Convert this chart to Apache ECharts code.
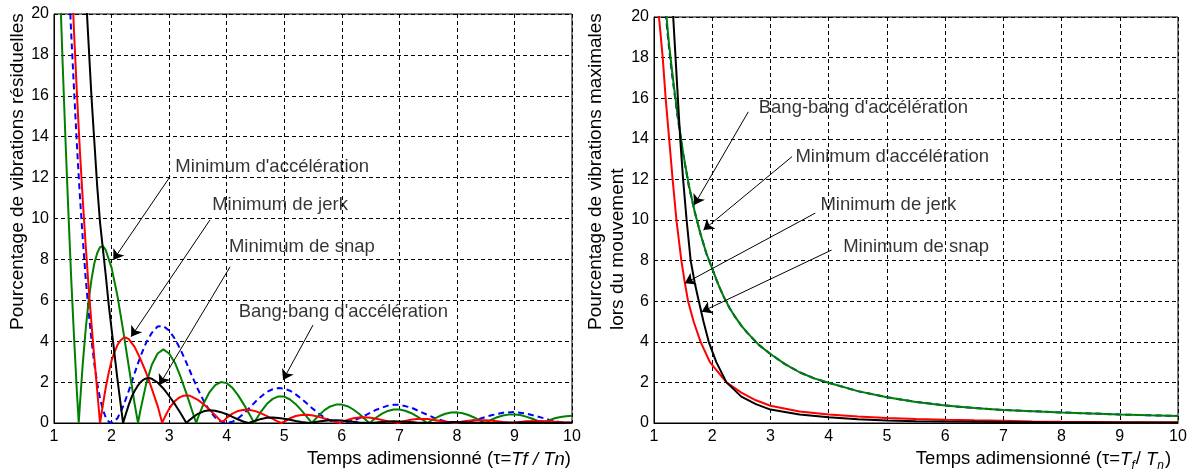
<!DOCTYPE html>
<html><head><meta charset="utf-8">
<script src="https://cdn.jsdelivr.net/npm/echarts@6/dist/echarts.min.js"></script>
<style>html,body{margin:0;padding:0;background:#fff}#c{width:1189px;height:470px}</style>
</head><body><div id="c"></div>
<script>
// ---------- DATA ----------
const xTicks = [1, 2, 3, 4, 5, 6, 7, 8, 9, 10];
const yTicks = [0, 2, 4, 6, 8, 10, 12, 14, 16, 18, 20];
const seriesNames = ["Bang-bang d'accélération", "Minimum d'accélération", "Minimum de jerk", "Minimum de snap"];
const yTitleLeft = 'Pourcentage de vibrations résiduelles';
const yTitleRight = ['Pourcentage de vibrations maximales', 'lors du mouvement'];

// Left panel: residual vibration (%) vs tau
const resBangBang = [[1.2,25.4],[1.25,22.1],[1.3,19.0],[1.35,16.2],[1.4,13.5],[1.45,11.1],[1.5,9.0],[1.55,7.1],[1.6,5.5],[1.65,4.1],[1.7,2.9],[1.75,1.95],[1.8,1.2],[1.85,0.64],[1.9,0.27],[1.95,0.07],[2.0,0],[2.1,0.22],[2.2,0.8],[2.3,1.58],[2.4,2.43],[2.5,3.24],[2.6,3.92],[2.7,4.41],[2.8,4.72],[2.9,4.74],[3.0,4.52],[3.1,4.12],[3.2,3.58],[3.3,2.95],[3.4,2.29],[3.5,1.65],[3.6,1.08],[3.7,0.61],[3.8,0.27],[3.9,0.07],[4.0,0],[4.1,0.06],[4.2,0.23],[4.3,0.47],[4.4,0.75],[4.5,1.04],[4.6,1.3],[4.7,1.52],[4.8,1.65],[4.9,1.71],[5.0,1.68],[5.1,1.58],[5.2,1.4],[5.3,1.18],[5.4,0.94],[5.5,0.69],[5.6,0.46],[5.7,0.27],[5.8,0.12],[5.9,0.03],[6.0,0],[6.2,0.11],[6.4,0.36],[6.6,0.65],[6.8,0.85],[6.9,0.89],[7.0,0.89],[7.2,0.76],[7.4,0.51],[7.6,0.26],[7.8,0.07],[8.0,0],[8.2,0.06],[8.4,0.21],[8.6,0.38],[8.8,0.5],[9.0,0.54],[9.2,0.46],[9.4,0.32],[9.6,0.16],[9.8,0.04],[10.0,0]];
const resMinAcc = [[1.0,30.5],[1.05,26.0],[1.1,21.7],[1.15,17.6],[1.2,13.8],[1.25,10.3],[1.3,7.0],[1.35,4.1],[1.4,1.4],[1.43,0],[1.45,0.9],[1.5,2.9],[1.55,4.55],[1.6,5.95],[1.65,7.0],[1.7,7.8],[1.75,8.3],[1.8,8.6],[1.85,8.65],[1.9,8.45],[2.0,7.6],[2.1,6.25],[2.2,4.55],[2.3,2.75],[2.4,0.95],[2.46,0],[2.5,0.6],[2.6,1.9],[2.7,2.85],[2.8,3.4],[2.9,3.6],[3.0,3.4],[3.1,2.95],[3.2,2.25],[3.3,1.45],[3.4,0.6],[3.47,0],[3.5,0.25],[3.6,0.95],[3.7,1.5],[3.8,1.85],[3.9,2.0],[4.0,1.95],[4.1,1.72],[4.2,1.35],[4.3,0.9],[4.4,0.4],[4.48,0],[4.5,0.12],[4.6,0.57],[4.7,0.94],[4.8,1.18],[4.9,1.3],[5.0,1.29],[5.1,1.15],[5.2,0.92],[5.3,0.62],[5.4,0.28],[5.48,0],[5.5,0.06],[5.6,0.37],[5.7,0.63],[5.8,0.81],[5.9,0.9],[6.0,0.9],[6.1,0.82],[6.2,0.66],[6.3,0.45],[6.4,0.2],[6.48,0],[6.5,0.04],[6.6,0.27],[6.7,0.46],[6.8,0.59],[6.9,0.66],[7.0,0.66],[7.1,0.6],[7.2,0.49],[7.3,0.34],[7.4,0.16],[7.49,0],[7.6,0.2],[7.7,0.34],[7.8,0.45],[7.9,0.51],[8.0,0.52],[8.1,0.48],[8.2,0.39],[8.3,0.27],[8.4,0.13],[8.49,0],[8.6,0.16],[8.7,0.28],[8.8,0.37],[8.9,0.41],[9.0,0.42],[9.1,0.39],[9.2,0.31],[9.3,0.22],[9.4,0.11],[9.49,0],[9.6,0.13],[9.7,0.23],[9.8,0.29],[9.9,0.33],[10.0,0.35]];
const resMinJerk = [[1.3,22.3],[1.35,19.0],[1.4,16.0],[1.45,13.3],[1.5,10.9],[1.55,8.7],[1.6,6.7],[1.65,4.9],[1.7,3.2],[1.75,1.6],[1.8,0],[1.85,0.9],[1.9,1.75],[1.95,2.45],[2.0,3.05],[2.05,3.45],[2.1,3.8],[2.15,4.02],[2.2,4.15],[2.25,4.18],[2.3,4.1],[2.4,3.72],[2.5,3.14],[2.6,2.47],[2.7,1.67],[2.8,0.84],[2.88,0],[2.9,0.14],[2.95,0.43],[3.0,0.69],[3.05,0.9],[3.1,1.07],[3.15,1.19],[3.2,1.28],[3.25,1.33],[3.3,1.35],[3.35,1.34],[3.4,1.28],[3.5,1.13],[3.6,0.92],[3.7,0.66],[3.8,0.38],[3.9,0.09],[3.92,0],[3.95,0.1],[4.0,0.25],[4.1,0.46],[4.2,0.59],[4.3,0.65],[4.4,0.64],[4.5,0.58],[4.6,0.47],[4.7,0.34],[4.8,0.2],[4.9,0.06],[4.95,0],[5.0,0.07],[5.1,0.23],[5.2,0.34],[5.3,0.39],[5.4,0.4],[5.5,0.37],[5.6,0.3],[5.7,0.22],[5.8,0.13],[5.9,0.05],[5.97,0],[6.1,0.15],[6.2,0.23],[6.3,0.27],[6.4,0.28],[6.5,0.26],[6.6,0.21],[6.7,0.15],[6.8,0.09],[6.9,0.04],[6.98,0],[7.1,0.1],[7.2,0.16],[7.3,0.19],[7.4,0.2],[7.5,0.19],[7.6,0.15],[7.7,0.11],[7.8,0.07],[7.9,0.03],[7.98,0],[8.1,0.07],[8.2,0.11],[8.3,0.13],[8.4,0.14],[8.5,0.13],[8.6,0.11],[8.7,0.08],[8.8,0.05],[8.98,0],[9.1,0.05],[9.2,0.08],[9.4,0.1],[9.6,0.08],[9.8,0.04],[9.98,0],[10.0,0.01]];
const resMinSnap = [[1.5,24],[1.55,21.2],[1.6,18.6],[1.65,16.0],[1.7,13.8],[1.75,11.6],[1.8,9.8],[1.85,8.5],[1.9,7.2],[1.95,5.8],[2.0,4.6],[2.05,3.4],[2.1,2.2],[2.15,1.1],[2.2,0],[2.25,0.46],[2.3,0.9],[2.35,1.28],[2.4,1.56],[2.45,1.8],[2.5,1.98],[2.55,2.11],[2.6,2.18],[2.65,2.2],[2.7,2.16],[2.8,1.98],[2.9,1.69],[3.0,1.32],[3.1,0.92],[3.2,0.48],[3.3,0],[3.35,0.13],[3.4,0.25],[3.5,0.45],[3.6,0.57],[3.7,0.62],[3.8,0.6],[3.9,0.53],[4.0,0.43],[4.1,0.3],[4.2,0.17],[4.3,0.06],[4.38,0],[4.45,0.06],[4.5,0.11],[4.6,0.2],[4.7,0.26],[4.8,0.27],[4.9,0.25],[5.0,0.21],[5.1,0.16],[5.2,0.1],[5.3,0.05],[5.45,0],[5.6,0.07],[5.7,0.11],[5.8,0.14],[5.9,0.14],[6.0,0.12],[6.1,0.09],[6.2,0.06],[6.3,0.03],[6.5,0],[6.7,0.05],[6.9,0.08],[7.1,0.06],[7.3,0.03],[7.55,0],[7.8,0.03],[7.95,0.05],[8.2,0.03],[8.6,0],[9.0,0.03],[9.3,0.02],[9.65,0],[10.0,0.02]];

// Right panel: maximal vibration during motion (%) vs tau
const maxBangBang = [[1.1,24.6],[1.15,22.2],[1.2,20.2],[1.25,18.7],[1.3,17.4],[1.35,16.3],[1.4,15.2],[1.45,14.2],[1.5,13.25],[1.6,11.65],[1.7,10.4],[1.8,9.3],[1.9,8.35],[2.0,7.6],[2.1,6.85],[2.2,6.2],[2.3,5.65],[2.4,5.2],[2.5,4.8],[2.6,4.45],[2.8,3.85],[3.0,3.4],[3.25,2.9],[3.5,2.5],[3.75,2.2],[4.0,1.98],[4.5,1.57],[5.0,1.27],[5.5,1.04],[6.0,0.86],[6.5,0.74],[7.0,0.64],[7.5,0.58],[8.0,0.52],[8.5,0.47],[9.0,0.42],[9.5,0.38],[10.0,0.35]];
const maxMinAcc = [[1.1,25],[1.15,22.6],[1.2,20.5],[1.25,18.9],[1.3,17.6],[1.35,16.4],[1.4,15.3],[1.45,14.3],[1.5,13.3],[1.6,11.7],[1.7,10.4],[1.8,9.3],[1.9,8.35],[2.0,7.6],[2.1,6.85],[2.2,6.2],[2.3,5.65],[2.4,5.2],[2.5,4.8],[2.6,4.45],[2.8,3.85],[3.0,3.4],[3.25,2.9],[3.5,2.5],[3.75,2.2],[4.0,1.98],[4.5,1.57],[5.0,1.27],[5.5,1.04],[6.0,0.86],[6.5,0.74],[7.0,0.64],[7.5,0.58],[8.0,0.52],[8.5,0.47],[9.0,0.42],[9.5,0.38],[10.0,0.35]];
const maxMinJerk = [[1.05,22.2],[1.086,20],[1.15,18],[1.2,16],[1.26,14],[1.32,12],[1.385,10],[1.47,8],[1.53,6.9],[1.585,6],[1.68,5],[1.8,4],[1.96,3],[2.245,2],[2.5,1.5],[2.75,1.12],[3.0,0.85],[3.5,0.57],[4.0,0.42],[4.5,0.32],[5.0,0.25],[5.5,0.2],[6.0,0.16],[6.5,0.13],[7.0,0.11],[7.5,0.08],[8.0,0.06],[9.0,0.04],[10.0,0.03]];
const maxMinSnap = [[1.28,24],[1.33,20],[1.37,18],[1.41,16],[1.45,14],[1.5,12],[1.56,10],[1.63,8],[1.7,6.9],[1.77,6],[1.85,5],[1.94,4],[2.07,3],[2.245,2],[2.5,1.3],[2.75,0.93],[3.0,0.66],[3.5,0.42],[4.0,0.28],[4.5,0.19],[5.0,0.12],[5.5,0.09],[6.0,0.07],[7.0,0.05],[8.0,0.03],[9.0,0.02],[10.0,0.02]];

// Annotations (data coordinates): label anchors and arrows [tail, tip]
const leftLabelText = ["Minimum d'accélération", "Minimum de jerk", "Minimum de snap", "Bang-bang d'accélération"];
const leftLabelAt = [[3.10, 12.53], [3.74, 10.66], [4.03, 8.62], [4.20, 5.44]];
const leftArrows = [[[3.015, 12.04], [2.03, 7.97]], [[3.71, 9.93], [2.34, 4.22]], [[4.06, 7.64], [2.83, 1.86]], [[5.50, 4.79], [4.98, 2.10]]];
const rightLabelText = ["Bang-bang d'accélération", "Minimum d'accélération", "Minimum de jerk", "Minimum de snap"];
const rightLabelAt = [[2.79, 15.50], [3.42, 13.12], [3.85, 10.74], [4.24, 8.68]];
const rightArrows = [[[2.62, 15.33], [1.69, 10.74]], [[3.37, 13.12], [1.85, 9.51]], [[3.77, 10.34], [1.53, 6.88]], [[4.05, 8.52], [1.82, 5.48]]];

// ---------- CHART ----------
const FONT = '"Liberation Sans", Arial, Helvetica, sans-serif';
const colors = { bang: '#0000ff', acc: '#008000', jerk: '#ff0000', snap: '#000000' };
const chart = echarts.init(document.getElementById('c'), null, { renderer: 'canvas' });

const richStyles = {
  n: { fontSize: 18.5, fontFamily: FONT, color: '#000', lineHeight: 24, verticalAlign: 'middle' },
  i: { fontSize: 18.5, fontFamily: FONT, color: '#000', fontStyle: 'italic', lineHeight: 24, verticalAlign: 'middle' },
  s: { fontSize: 12, fontFamily: FONT, color: '#000', fontStyle: 'italic', lineHeight: 24, verticalAlign: 'bottom', padding: [0, 1, 0, 0] }
};
function xAxisDef(gridIndex, nameRich, shift) {
  return {
    type: 'value', gridIndex, min: xTicks[0], max: xTicks[xTicks.length - 1], interval: 1,
    axisLine: { show: true, onZero: false, lineStyle: { color: '#000', width: 1 } },
    axisTick: { show: false },
    axisLabel: { color: '#000', fontSize: 16, fontFamily: FONT, margin: 6 },
    splitLine: { show: true, lineStyle: { color: '#000', width: 1, type: [4, 3] } },
    name: nameRich, nameLocation: 'middle', nameGap: 18,
    nameTextStyle: {
      align: 'center', verticalAlign: 'top', padding: [0, 0, 0, shift],
      color: '#000', fontSize: 18.5, fontFamily: FONT, rich: richStyles
    }
  };
}
function yAxisDef(gridIndex) {
  return {
    type: 'value', gridIndex, min: yTicks[0], max: yTicks[yTicks.length - 1], interval: 2,
    axisLine: { show: true, onZero: false, lineStyle: { color: '#000', width: 1 } },
    axisTick: { show: false },
    axisLabel: { color: '#000', fontSize: 16, fontFamily: FONT, margin: 5 },
    splitLine: { show: true, lineStyle: { color: '#000', width: 1, type: [4, 3] } }
  };
}
function curve(name, data, color, idx, dashed) {
  return {
    name, type: 'line', data, xAxisIndex: idx, yAxisIndex: idx, showSymbol: false, symbol: 'none',
    clip: true, smooth: false, z: 3,
    lineStyle: { color, width: 2, type: dashed ? [6, 4] : 'solid' }
  };
}
function arrows(list, idx) {
  return {
    type: 'lines', coordinateSystem: 'cartesian2d', xAxisIndex: idx, yAxisIndex: idx, z: 5,
    symbol: ['none', 'arrow'], symbolSize: 10,
    lineStyle: { color: '#000', width: 1, opacity: 1, curveness: 0 },
    data: list.map(a => ({ coords: [a[0], a[1]] }))
  };
}
function labels(texts, at, idx) {
  return {
    type: 'scatter', xAxisIndex: idx, yAxisIndex: idx, symbolSize: 1, z: 6, silent: true,
    itemStyle: { color: 'rgba(0,0,0,0)' },
    label: { show: true, position: 'right', distance: 0, formatter: '{b}', color: '#000', fontSize: 18.5, fontFamily: FONT },
    data: texts.map((t, k) => ({ name: t, value: at[k] }))
  };
}

const option = {
  animation: false,
  backgroundColor: '#fff',
  grid: [
    { left: 54, top: 14, width: 518, height: 409, show: true, borderColor: '#000', borderWidth: 1, backgroundColor: '#fff', outerBoundsMode: 'none', containLabel: false },
    { left: 654, top: 17, width: 524, height: 406, show: true, borderColor: '#000', borderWidth: 1, backgroundColor: '#fff', outerBoundsMode: 'none', containLabel: false }
  ],
  xAxis: [
    xAxisDef(0, '{n|Temps adimensionné (τ=}{i|Tf / Tn}{n|)}', 252),
    xAxisDef(1, '{n|Temps adimensionné (τ=}{i|T}{s|f}{n|/ }{i|T}{s|n}{n|)}', 255)
  ],
  yAxis: [yAxisDef(0), yAxisDef(1)],
  graphic: [
    { type: 'text', x: 17.5, y: 330, rotation: Math.PI / 2, style: { text: yTitleLeft, font: '19px ' + FONT, fill: '#000', align: 'left', verticalAlign: 'middle' } },
    { type: 'text', x: 596, y: 330, rotation: Math.PI / 2, style: { text: yTitleRight[0], font: '19px ' + FONT, fill: '#000', align: 'left', verticalAlign: 'middle' } },
    { type: 'text', x: 617.5, y: 330, rotation: Math.PI / 2, style: { text: yTitleRight[1], font: '19px ' + FONT, fill: '#000', align: 'left', verticalAlign: 'middle' } }
  ],
  series: [
    curve(seriesNames[0], resBangBang, colors.bang, 0, true),
    curve(seriesNames[1], resMinAcc, colors.acc, 0, false),
    curve(seriesNames[2], resMinJerk, colors.jerk, 0, false),
    curve(seriesNames[3], resMinSnap, colors.snap, 0, false),
    arrows(leftArrows, 0),
    labels(leftLabelText, leftLabelAt, 0),
    curve(seriesNames[0], maxBangBang, colors.bang, 1, true),
    curve(seriesNames[1], maxMinAcc, colors.acc, 1, false),
    curve(seriesNames[2], maxMinJerk, colors.jerk, 1, false),
    curve(seriesNames[3], maxMinSnap, colors.snap, 1, false),
    arrows(rightArrows, 1),
    labels(rightLabelText, rightLabelAt, 1)
  ]
};
chart.setOption(option);
</script></body></html>
